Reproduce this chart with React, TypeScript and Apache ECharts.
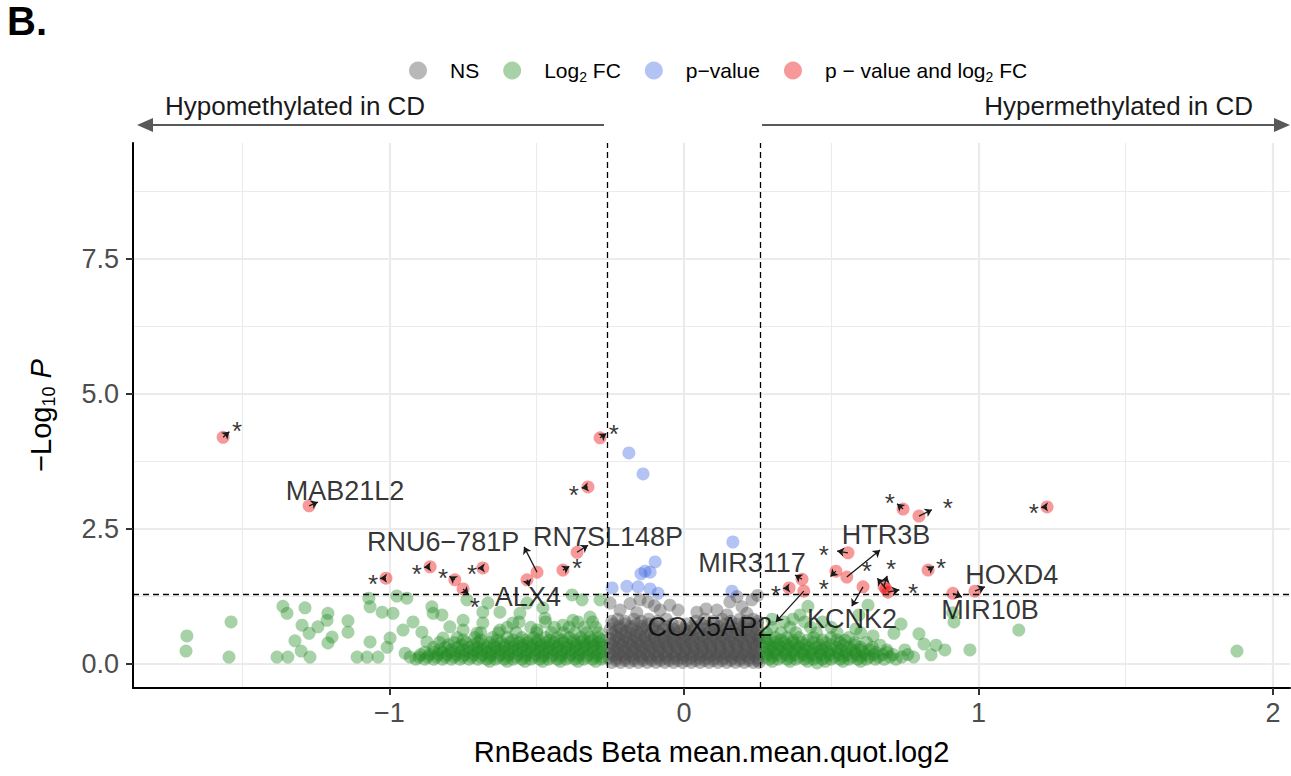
import React, { useEffect, useRef } from 'react';
import * as echarts from 'echarts';

const FONT = "'Liberation Sans', Arial, Helvetica, sans-serif";

// cut-offs (log2 FC and -log10 p)
const FC_CUT = 0.263;
const P_CUT = 1.301;

// axes
const X_MIN = -1.871;
const X_MAX = 2.058;
const Y_MIN = -0.444;
const Y_MAX = 9.65;
const xTicks = [-1, 0, 1, 2];
const yTicks = [0, 2.5, 5, 7.5];
const xMinor = [-1.5, -0.5, 0.5, 1.5];
const yMinor = [1.25, 3.75, 6.25, 8.75];

const legendNames = ['NS', 'Log2 FC', 'p-value', 'p - value and log2 FC'];

// NS points: rows [y, xs]
const nsRows: [number, number[]][] = [
  [0.03, [-0.245, -0.215, -0.185, -0.155, -0.125, -0.095, -0.065, -0.035, -0.005, 0.025, 0.055, 0.085, 0.115, 0.145, 0.175, 0.205, 0.235, 0.255]],
  [0.07, [-0.23, -0.2, -0.17, -0.14, -0.11, -0.08, -0.05, -0.02, 0.01, 0.04, 0.07, 0.1, 0.13, 0.16, 0.19, 0.22, 0.25]],
  [0.11, [-0.255, -0.228, -0.2, -0.172, -0.144, -0.116, -0.088, -0.06, -0.032, -0.004, 0.024, 0.052, 0.08, 0.108, 0.136, 0.164, 0.192, 0.22, 0.248]],
  [0.155, [-0.24, -0.21, -0.18, -0.15, -0.12, -0.09, -0.06, -0.03, 0.0, 0.03, 0.06, 0.09, 0.12, 0.15, 0.18, 0.21, 0.24]],
  [0.2, [-0.25, -0.22, -0.19, -0.16, -0.13, -0.1, -0.07, -0.04, -0.01, 0.02, 0.05, 0.08, 0.11, 0.14, 0.17, 0.2, 0.23, 0.255]],
  [0.245, [-0.235, -0.205, -0.175, -0.145, -0.115, -0.085, -0.055, -0.025, 0.005, 0.035, 0.065, 0.095, 0.125, 0.155, 0.185, 0.215, 0.245]],
  [0.29, [-0.255, -0.226, -0.197, -0.168, -0.139, -0.11, -0.081, -0.052, -0.023, 0.006, 0.035, 0.064, 0.093, 0.122, 0.151, 0.18, 0.209, 0.238]],
  [0.335, [-0.24, -0.21, -0.18, -0.15, -0.12, -0.09, -0.06, -0.03, 0.0, 0.03, 0.06, 0.09, 0.12, 0.15, 0.18, 0.21, 0.245]],
  [0.38, [-0.248, -0.218, -0.188, -0.158, -0.128, -0.098, -0.068, -0.038, -0.008, 0.022, 0.052, 0.082, 0.112, 0.142, 0.172, 0.202, 0.232, 0.256]],
  [0.425, [-0.235, -0.205, -0.175, -0.145, -0.115, -0.085, -0.055, -0.025, 0.005, 0.035, 0.065, 0.095, 0.125, 0.155, 0.185, 0.215, 0.245]],
  [0.47, [-0.252, -0.222, -0.19, -0.16, -0.13, -0.1, -0.07, -0.04, -0.01, 0.02, 0.05, 0.08, 0.11, 0.14, 0.17, 0.2, 0.23, 0.254]],
  [0.515, [-0.23, -0.198, -0.165, -0.132, -0.1, -0.066, -0.034, 0.0, 0.03, 0.063, 0.096, 0.128, 0.16, 0.193, 0.226, 0.252]],
  [0.56, [-0.245, -0.212, -0.18, -0.148, -0.115, -0.082, -0.05, -0.018, 0.014, 0.047, 0.08, 0.112, 0.145, 0.178, 0.21, 0.243]],
  [0.605, [-0.232, -0.196, -0.16, -0.124, -0.088, -0.052, -0.018, 0.018, 0.052, 0.088, 0.124, 0.16, 0.196, 0.232]],
  [0.65, [-0.25, -0.215, -0.178, -0.142, -0.105, -0.07, -0.035, 0.0, 0.035, 0.07, 0.105, 0.142, 0.178, 0.215, 0.25]],
  [0.695, [-0.22, -0.18, -0.14, -0.1, -0.06, -0.02, 0.03, 0.08, 0.12, 0.16, 0.2, 0.24]],
  [0.74, [-0.24, -0.2, -0.16, -0.12, -0.085, -0.04, 0.01, 0.06, 0.1, 0.14, 0.18, 0.22, 0.25]],
  [0.79, [-0.245, -0.2, -0.145, -0.09, 0.04, 0.1, 0.16, 0.21, 0.25]],
  [0.83, [-0.225, -0.17, -0.12, -0.06, 0.07, 0.13, 0.19, 0.235]],
];
const nsScatter: [number, number][] = [
  [-0.149, 1.19], [-0.183, 1.12], [-0.122, 1.15], [-0.048, 1.09], [-0.02, 1.0], [0.044, 0.96],
  [0.112, 1.0], [0.156, 1.15], [0.197, 1.06], [0.231, 1.19], [0.146, 0.91], [0.214, 0.94],
  [-0.251, 1.13], [-0.217, 1.0], [-0.081, 1.0], [-0.16, 0.95], [0.075, 1.02], [0.25, 1.27],
  [-0.1, 1.08], [0.18, 1.25],
];

// Log2 FC points: rows [y, xs]
const fcRows: [number, number[]][] = [
  [0.05, [-0.66, -0.6, -0.54, -0.48, -0.42, -0.36, -0.3, 0.3, 0.36, 0.42, 0.48, 0.54, 0.6]],
  [0.09, [-0.91, -0.88, -0.85, -0.82, -0.79, -0.76, -0.73, -0.7, -0.67, -0.64, -0.61, -0.58, -0.55, -0.52, -0.49, -0.46, -0.43, -0.4, -0.37, -0.34, -0.31, -0.28,
    0.29, 0.32, 0.35, 0.38, 0.41, 0.44, 0.47, 0.5, 0.53, 0.56, 0.59, 0.62, 0.65, 0.68, 0.72]],
  [0.13, [-0.93, -0.9, -0.87, -0.84, -0.81, -0.78, -0.75, -0.72, -0.69, -0.66, -0.63, -0.6, -0.57, -0.54, -0.51, -0.48, -0.45, -0.42, -0.39, -0.36, -0.33, -0.3, -0.275,
    0.275, 0.3, 0.33, 0.36, 0.39, 0.42, 0.45, 0.48, 0.51, 0.54, 0.57, 0.6, 0.63, 0.66, 0.7, 0.74, 0.78]],
  [0.175, [-0.895, -0.865, -0.835, -0.805, -0.775, -0.745, -0.715, -0.685, -0.655, -0.625, -0.595, -0.565, -0.535, -0.505, -0.475, -0.445, -0.415, -0.385, -0.355, -0.325, -0.295,
    0.285, 0.315, 0.345, 0.375, 0.405, 0.435, 0.465, 0.495, 0.525, 0.555, 0.585, 0.615, 0.645, 0.675, 0.71, 0.76]],
  [0.22, [-0.88, -0.85, -0.82, -0.79, -0.76, -0.73, -0.7, -0.67, -0.64, -0.61, -0.58, -0.55, -0.52, -0.49, -0.46, -0.43, -0.4, -0.37, -0.34, -0.31, -0.28,
    0.28, 0.31, 0.34, 0.37, 0.4, 0.43, 0.46, 0.49, 0.52, 0.55, 0.58, 0.61, 0.65, 0.69]],
  [0.265, [-0.83, -0.79, -0.75, -0.715, -0.685, -0.655, -0.625, -0.595, -0.565, -0.535, -0.505, -0.475, -0.445, -0.415, -0.385, -0.355, -0.325, -0.295,
    0.29, 0.32, 0.35, 0.38, 0.41, 0.44, 0.47, 0.5, 0.535, 0.57, 0.6, 0.63]],
  [0.31, [-0.85, -0.81, -0.77, -0.73, -0.7, -0.67, -0.64, -0.61, -0.58, -0.55, -0.52, -0.49, -0.46, -0.43, -0.4, -0.37, -0.34, -0.31, -0.28,
    0.275, 0.3, 0.33, 0.36, 0.39, 0.42, 0.45, 0.48, 0.52, 0.56, 0.6, 0.64]],
  [0.355, [-0.8, -0.755, -0.715, -0.68, -0.645, -0.61, -0.575, -0.545, -0.515, -0.485, -0.455, -0.425, -0.395, -0.365, -0.335, -0.305, -0.28,
    0.29, 0.32, 0.35, 0.38, 0.41, 0.46, 0.5, 0.54, 0.58]],
  [0.4, [-0.83, -0.78, -0.74, -0.7, -0.66, -0.62, -0.59, -0.56, -0.53, -0.5, -0.47, -0.44, -0.41, -0.38, -0.35, -0.32, -0.29,
    0.28, 0.31, 0.34, 0.37, 0.4, 0.44, 0.48, 0.53, 0.58, 0.62]],
  [0.445, [-0.75, -0.69, -0.635, -0.58, -0.535, -0.495, -0.455, -0.415, -0.375, -0.34, -0.31, -0.28,
    0.295, 0.33, 0.37, 0.42, 0.47, 0.52]],
  [0.49, [-0.77, -0.71, -0.65, -0.6, -0.55, -0.51, -0.47, -0.43, -0.39, -0.35, -0.32, -0.29,
    0.275, 0.31, 0.35, 0.39, 0.44, 0.5, 0.56]],
  [0.58, [-0.69, -0.63, -0.57, -0.5, -0.45, -0.41, -0.37, -0.33, -0.29, 0.28, 0.33, 0.38, 0.45, 0.52, 0.6]],
  [0.68, [-0.6, -0.52, -0.44, -0.39, -0.34, -0.3, 0.3, 0.36, 0.43, 0.5]],
  [0.78, [-0.56, -0.47, -0.36, -0.31, 0.34, 0.41, 0.47]],
];
const fcScatter: [number, number][] = [
  [-1.688, 0.52], [-1.691, 0.24], [-1.538, 0.78], [-1.545, 0.13], [-1.362, 1.07], [-1.348, 0.94],
  [-1.287, 1.04], [-1.297, 0.72], [-1.321, 0.43], [-1.3, 0.24], [-1.382, 0.13], [-1.345, 0.13],
  [-1.27, 0.13], [-1.273, 0.57], [-1.243, 0.69], [-1.212, 0.81], [-1.209, 0.94], [-1.195, 0.5],
  [-1.209, 0.39], [-1.141, 0.8], [-1.141, 0.59], [-1.11, 0.13], [-1.076, 0.13], [-1.039, 0.13],
  [-1.066, 0.41], [-1.07, 1.22], [-1.066, 1.06], [-1.025, 0.96], [-0.988, 0.94], [-0.975, 1.26],
  [-0.941, 1.22], [-0.998, 0.48], [-1.008, 0.31], [-0.947, 0.2], [-0.954, 0.63], [-0.92, 0.78],
  [-0.89, 0.59], [-0.856, 1.06], [-0.852, 0.94], [-0.822, 0.91], [-0.873, 0.41], [-0.737, 1.19],
  [-0.666, 1.13], [-0.683, 0.96], [-0.625, 0.96], [-0.75, 0.81], [-0.683, 0.76], [-0.557, 0.94],
  [-0.533, 1.13], [-0.479, 1.04], [-0.472, 0.85], [-0.38, 1.28], [-0.346, 1.19], [-0.285, 1.19],
  [-0.377, 0.81], [-0.319, 0.87], [-0.411, 0.72], [-0.499, 0.63], [-0.581, 0.76], [-0.625, 0.63],
  [-0.75, 0.63], [-0.795, 0.69], [-0.818, 0.48], [-0.703, 0.57],
  [1.878, 0.24], [1.137, 0.63], [0.971, 0.26], [0.917, 0.78], [0.913, 0.95], [0.886, 0.26],
  [0.839, 0.17], [0.856, 0.35], [0.815, 0.37], [0.798, 0.56], [0.75, 0.26], [0.737, 0.74],
  [0.625, 1.09], [0.594, 0.91], [0.452, 0.02], [0.421, 1.07], [0.394, 0.91], [0.37, 0.83],
  [0.299, 0.83], [0.713, 0.57], [0.689, 0.26], [0.584, 0.65], [0.547, 0.44], [0.642, 0.52],
  [0.666, 0.35],
];

// p-value only points
const pX = [-0.187, -0.139, 0.166, 0.163, -0.098, -0.132, -0.115, -0.244, -0.194, -0.156, -0.115, -0.088, -0.146];
const pY = [3.91, 3.52, 2.26, 1.35, 1.89, 1.72, 1.7, 1.41, 1.44, 1.43, 1.39, 1.31, 1.67];

// p-value and log2 FC points
const sigX = [-1.565, -1.273, -1.012, -0.862, -0.778, -0.75, -0.683, -0.533, -0.499, -0.411, -0.363, -0.326, -0.285,
  0.744, 0.798, 1.233, 0.557, 0.516, 0.553, 0.401, 0.407, 0.357, 0.608, 0.679, 0.693, 0.829, 0.913, 0.988, 0.686];
const sigY = [4.2, 2.93, 1.59, 1.8, 1.56, 1.39, 1.78, 1.56, 1.7, 1.74, 2.07, 3.28, 4.19,
  2.87, 2.74, 2.91, 2.06, 1.72, 1.61, 1.57, 1.35, 1.41, 1.43, 1.44, 1.33, 1.74, 1.31, 1.35, 1.39];
const sigLabel = ['*', 'MAB21L2', '*', '*', '*', '*', '*', 'ALX4', 'RNU6\u2212781P', '*', 'RN7SL148P', '*', '*',
  '*', '*', '*', '*', '*', 'HTR3B', 'MIR3117', 'COX5AP2', '*', 'KCNK2', '*', '*', '*', 'MIR10B', 'HOXD4', '*'];

// annotation layout (repelled label anchors and arrow tips, data units)
const labelAt: [number, number][] = [
  [-1.518, 4.43], [-1.151, 3.2], [-1.056, 1.59], [-0.907, 1.78], [-0.818, 1.7], [-0.71, 1.17], [-0.72, 1.78],
  [-0.53, 1.24], [-0.818, 2.26], [-0.363, 1.89], [-0.258, 2.35], [-0.374, 3.24], [-0.238, 4.37],
  [0.699, 3.09], [0.896, 3.0], [1.188, 2.91], [0.475, 2.13], [0.475, 1.5], [0.686, 2.39], [0.231, 1.87],
  [0.088, 0.69], [0.312, 1.39], [0.571, 0.83], [0.703, 1.87], [0.778, 1.43], [0.873, 1.89], [1.039, 1.0],
  [1.113, 1.65], [0.621, 1.83],
];
const arrowTip: ([number, number] | null)[] = [
  null, [-1.243, 3.0], null, null, null, null, null, [-0.526, 1.44], [-0.543, 2.17], null, [-0.326, 2.2], null, null,
  null, null, null, null, null, [0.666, 2.11], [0.377, 1.65], [0.312, 0.78], null, [0.57, 1.07], null, null, null,
  [0.944, 1.24], [1.022, 1.43], null,
];

const COL_NS = 'rgba(77,77,77,0.5)';
const COL_FC = 'rgba(34,139,34,0.5)';
const COL_P = 'rgba(65,105,225,0.5)';
const COL_SIG = 'rgba(238,0,0,0.5)';

function rowsToPoints(rows: [number, number[]][], extra: [number, number][]) {
  const out: [number, number][] = [];
  rows.forEach(([y, xs]) => xs.forEach((x) => out.push([x, y])));
  extra.forEach((p) => out.push(p));
  return out;
}

function buildOption(): any {
  const nsData = rowsToPoints(nsRows, nsScatter);
  const fcData = rowsToPoints(fcRows, fcScatter);
  const pData = pX.map((x, i) => [x, pY[i]]);
  const sigData = sigX.map((x, i) => [x, sigY[i]]);

  const labelData = sigLabel.map((txt, i) => ({
    value: labelAt[i],
    label: {
      formatter: txt,
      fontSize: txt === '*' ? 26 : 27,
      offset: txt === '*' ? [0, 6] : [0, 0],
    },
  }));

  const arrowData = sigLabel.map((txt, i) => {
    const p: [number, number] = [sigX[i], sigY[i]];
    let tip = arrowTip[i];
    if (!tip) {
      const l = labelAt[i];
      tip = [p[0] + (l[0] - p[0]) * 0.45, p[1] + (l[1] - p[1]) * 0.45];
    }
    return { coords: [p, tip] };
  });

  const gridLines = [
    ...xTicks.map((v) => ({ xAxis: v, lineStyle: { color: '#EBEBEB', width: 2.2, type: 'solid' } })),
    ...xMinor.map((v) => ({ xAxis: v, lineStyle: { color: '#EBEBEB', width: 1.1, type: 'solid' } })),
    ...yTicks.map((v) => ({ yAxis: v, lineStyle: { color: '#EBEBEB', width: 2.2, type: 'solid' } })),
    ...yMinor.map((v) => ({ yAxis: v, lineStyle: { color: '#EBEBEB', width: 1.1, type: 'solid' } })),
  ];

  const legendText: Record<string, string> = {
    'NS': '{a|NS}',
    'Log2 FC': '{a|Log}{s|2}{a| FC}',
    'p-value': '{a|p\u2212value}',
    'p - value and log2 FC': '{a|p \u2212 value and log}{s|2}{a| FC}',
  };

  const scatterBase = {
    type: 'scatter',
    symbol: 'circle',
    symbolSize: 13,
    silent: true,
    emphasis: { disabled: true },
  };

  return {
    animation: false,
    backgroundColor: '#ffffff',
    textStyle: { fontFamily: FONT },
    grid: { left: 133, right: 1, top: 143, bottom: 88, containLabel: false },
    legend: {
      data: legendNames,
      left: 409,
      top: 60,
      padding: 0,
      icon: 'circle',
      itemWidth: 18,
      itemHeight: 18,
      itemGap: 24,
      selectedMode: false,
      formatter: (n: string) => legendText[n],
      textStyle: {
        padding: [0, 0, 0, 18],
        rich: {
          a: { fontSize: 21, fontFamily: FONT, color: '#000', lineHeight: 26 },
          s: { fontSize: 14, fontFamily: FONT, color: '#000', lineHeight: 14, verticalAlign: 'bottom' },
        },
      },
    },
    xAxis: {
      type: 'value',
      min: X_MIN,
      max: X_MAX,
      name: 'RnBeads Beta mean.mean.quot.log2',
      nameLocation: 'middle',
      nameGap: 49,
      nameTextStyle: { fontSize: 29, color: '#000', fontFamily: FONT },
      axisLine: { show: true, onZero: false, lineStyle: { color: '#000', width: 2 } },
      axisTick: { show: true, customValues: xTicks, length: 7, lineStyle: { color: '#333', width: 2 } },
      axisLabel: {
        customValues: xTicks,
        fontSize: 27,
        color: '#4D4D4D',
        fontFamily: FONT,
        margin: 11,
        formatter: (v: number) => (v < 0 ? '\u2212' + Math.abs(v) : String(v)),
      },
      splitLine: { show: false },
    },
    yAxis: {
      type: 'value',
      min: Y_MIN,
      max: Y_MAX,
      name: '{a|\u2212Log}{s|10}{i| P}',
      nameLocation: 'middle',
      nameRotate: 90,
      nameGap: 75,
      nameTextStyle: {
        rich: {
          a: { fontSize: 29, fontFamily: FONT, color: '#000', lineHeight: 34 },
          s: { fontSize: 18, fontFamily: FONT, color: '#000', lineHeight: 18, verticalAlign: 'bottom' },
          i: { fontSize: 29, fontFamily: FONT, color: '#000', lineHeight: 34, fontStyle: 'italic' },
        },
      },
      axisLine: { show: true, onZero: false, lineStyle: { color: '#000', width: 2 } },
      axisTick: { show: true, customValues: yTicks, length: 7, lineStyle: { color: '#333', width: 2 } },
      axisLabel: {
        customValues: yTicks,
        fontSize: 27,
        color: '#4D4D4D',
        fontFamily: FONT,
        margin: 14,
        formatter: (v: number) => v.toFixed(1),
      },
      splitLine: { show: false },
    },
    graphic: [
      { type: 'text', left: 7, top: 1, style: { text: 'B.', fontSize: 40, fontWeight: 'bold', fontFamily: FONT, fill: '#000' } },
      { type: 'line', shape: { x1: 604, y1: 125, x2: 150, y2: 125 }, style: { stroke: '#595959', lineWidth: 2 } },
      { type: 'polygon', shape: { points: [[137, 125], [153, 118], [153, 132]] }, style: { fill: '#595959' } },
      { type: 'line', shape: { x1: 762, y1: 125, x2: 1277, y2: 125 }, style: { stroke: '#595959', lineWidth: 2 } },
      { type: 'polygon', shape: { points: [[1290, 125], [1274, 118], [1274, 132]] }, style: { fill: '#595959' } },
      { type: 'text', x: 165, y: 106, style: { text: 'Hypomethylated in CD', fontSize: 26, fontFamily: FONT, fill: '#1a1a1a', verticalAlign: 'middle' } },
      { type: 'text', x: 1253, y: 106, style: { text: 'Hypermethylated in CD', fontSize: 26, fontFamily: FONT, fill: '#1a1a1a', align: 'right', verticalAlign: 'middle' } },
    ],
    series: [
      {
        name: 'gridlines',
        type: 'scatter',
        data: [],
        z: 0,
        silent: true,
        markLine: { z: 0, silent: true, symbol: ['none', 'none'], label: { show: false }, animation: false, data: gridLines },
      },
      { ...scatterBase, name: 'NS', data: nsData, itemStyle: { color: COL_NS }, z: 2 },
      { ...scatterBase, name: 'Log2 FC', data: fcData, itemStyle: { color: COL_FC }, z: 2 },
      { ...scatterBase, name: 'p-value', data: pData, itemStyle: { color: COL_P }, z: 3 },
      { ...scatterBase, name: 'p - value and log2 FC', data: sigData, itemStyle: { color: COL_SIG }, z: 3 },
      {
        name: 'cutoffs',
        type: 'scatter',
        data: [],
        z: 4,
        silent: true,
        markLine: {
          z: 5,
          silent: true,
          symbol: ['none', 'none'],
          label: { show: false },
          animation: false,
          lineStyle: { color: '#000', width: 1.3, type: [6, 4] },
          data: [{ xAxis: -FC_CUT }, { xAxis: FC_CUT }, { yAxis: P_CUT }],
        },
      },
      {
        name: 'arrows',
        type: 'lines',
        coordinateSystem: 'cartesian2d',
        z: 7,
        silent: true,
        symbol: ['none', 'arrow'],
        symbolSize: 7,
        lineStyle: { color: '#1a1a1a', width: 1.3, opacity: 1 },
        data: arrowData,
      },
      {
        name: 'labels',
        type: 'scatter',
        z: 8,
        silent: true,
        symbol: 'circle',
        symbolSize: 1,
        itemStyle: { color: 'rgba(0,0,0,0)' },
        label: { show: true, position: 'inside', color: '#000', fontFamily: FONT },
        data: labelData,
      },
    ],
  };
}

export default function App() {
  const ref = useRef<HTMLDivElement>(null);
  useEffect(() => {
    document.body.style.margin = '0';
    const chart = echarts.init(ref.current!, null, { renderer: 'svg' });
    chart.setOption(buildOption());
    return () => chart.dispose();
  }, []);
  return <div ref={ref} style={{ width: 1291, height: 776 }} />;
}
